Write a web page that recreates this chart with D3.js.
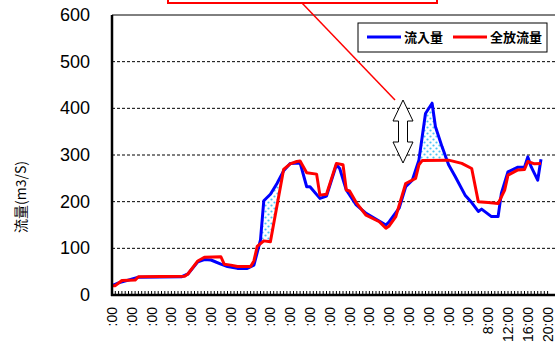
<!DOCTYPE html>
<html>
<head>
<meta charset="utf-8">
<script src="https://cdn.jsdelivr.net/npm/d3@7/dist/d3.min.js"></script>
<style>
  body { margin: 0; background: #fff; }
  svg { display: block; }
</style>
</head>
<body>
<script>
// tick index (one tick per data step) and value in m3/s
var inflow = [
  [0, 20], [2, 26], [8, 38], [21, 39], [23, 45], [26, 71], [28, 76], [30, 75],
  [33, 66], [35, 61], [38, 57], [41, 57], [43, 64], [45, 118], [46, 202], [48, 216],
  [50, 239], [52, 266], [54, 282], [57, 283], [59, 232], [60, 232], [63, 207], [65, 212],
  [68, 279], [69, 271], [71, 225], [74, 193], [77, 175], [83, 150], [84, 157], [87, 186],
  [89, 232], [91, 246], [93, 289], [95, 389], [97, 411], [98, 361], [100, 318], [102, 279],
  [104, 254], [107, 214], [109, 198], [111, 179], [112, 184], [115, 168], [117, 168],
  [118, 218], [120, 264], [123, 274], [125, 274], [126, 296], [127, 275], [129, 246], [130, 291]
];
var outflow = [
  [0, 20], [1, 20], [3, 31], [7, 32], [8, 39], [22, 40], [23, 45], [26, 73], [28, 81],
  [33, 82], [34, 66], [36, 64], [38, 61], [42, 61], [43, 73], [44, 104], [46, 116], [48, 114],
  [52, 269], [54, 281], [56, 286], [57, 287], [59, 262], [62, 259], [63, 214], [65, 216],
  [68, 282], [70, 279], [71, 225], [72, 223], [74, 198], [77, 171], [81, 157], [83, 143],
  [84, 148], [86, 168], [89, 239], [92, 250], [93, 279], [94, 288], [102, 289], [106, 282],
  [109, 271], [111, 200], [114, 198], [117, 196], [119, 225], [120, 257], [123, 268],
  [125, 269], [126, 286], [128, 281], [130, 282]
];
var yTicks = [0, 100, 200, 300, 400, 500, 600];
var xLabels = [":00", ":00", ":00", ":00", ":00", ":00", ":00", ":00", ":00", ":00",
  ":00", ":00", ":00", ":00", ":00", ":00", ":00", ":00", ":00", "8:00", "12:00", "16:00", "20:00"];
var ticksPerLabel = 6;
var legendNames = ["流入量", "全放流量"];
var yTitle = "流量(m3/S)";

function draw() {
  var width = 555, height = 346;
  var left = 112, plotTop = 15, bottom = 295, step = 3.3;
  var nTicks = (xLabels.length - 1) * ticksPerLabel;

  var svg = d3.select("body").append("svg")
      .attr("width", width)
      .attr("height", height);

  var defs = svg.append("defs");
  var pat = defs.append("pattern")
      .attr("id", "dots")
      .attr("patternUnits", "userSpaceOnUse")
      .attr("width", 6).attr("height", 6);
  pat.append("rect").attr("width", 6).attr("height", 6).attr("fill", "#fff");
  pat.append("circle").attr("cx", 1.5).attr("cy", 1.5).attr("r", 1.1).attr("fill", "#4cc4f4");
  pat.append("circle").attr("cx", 4.5).attr("cy", 4.5).attr("r", 1.1).attr("fill", "#4cc4f4");

  var x = d3.scaleLinear().domain([0, nTicks]).range([left, left + nTicks * step]);
  var y = d3.scaleLinear().domain([0, 600]).range([bottom, plotTop]);

  // grid lines
  svg.append("g")
    .selectAll("line")
    .data(yTicks.slice(1))
    .enter().append("line")
      .attr("x1", left).attr("x2", width)
      .attr("y1", function(d) { return y(d); })
      .attr("y2", function(d) { return y(d); })
      .attr("stroke", "#000")
      .attr("stroke-width", 1)
      .attr("stroke-dasharray", function(d) { return d == 600 ? null : "3,2"; });

  // y tick labels
  svg.append("g")
    .selectAll("text")
    .data(yTicks)
    .enter().append("text")
      .attr("x", 90)
      .attr("y", function(d) { return y(d) + 6; })
      .attr("text-anchor", "end")
      .attr("font-family", "Liberation Sans, Arial, sans-serif")
      .attr("font-size", 18)
      .text(function(d) { return d; });

  svg.append("text")
      .attr("transform", "translate(26,197) rotate(-90)")
      .attr("text-anchor", "middle")
      .attr("font-family", "Noto Sans CJK JP, sans-serif")
      .attr("font-size", 14)
      .text(yTitle);

  // fill where inflow exceeds outflow
  var aboveRed = d3.area()
      .x(function(d) { return x(d[0]); })
      .y0(plotTop)
      .y1(function(d) { return y(d[1]); });
  var belowBlue = d3.area()
      .x(function(d) { return x(d[0]); })
      .y0(bottom)
      .y1(function(d) { return y(d[1]); });

  defs.append("clipPath").attr("id", "overRed")
    .append("path").attr("d", aboveRed(outflow));

  svg.append("path")
      .attr("d", belowBlue(inflow))
      .attr("fill", "url(#dots)")
      .attr("clip-path", "url(#overRed)");

  var line = d3.line()
      .x(function(d) { return x(d[0]); })
      .y(function(d) { return y(d[1]); });

  svg.append("path")
      .attr("d", line(inflow))
      .attr("fill", "none")
      .attr("stroke", "#0000ff")
      .attr("stroke-width", 3)
      .attr("stroke-linejoin", "round");

  svg.append("path")
      .attr("d", line(outflow))
      .attr("fill", "none")
      .attr("stroke", "#ff0000")
      .attr("stroke-width", 3)
      .attr("stroke-linejoin", "round");

  // axes
  svg.append("line")
      .attr("x1", left).attr("x2", left)
      .attr("y1", plotTop).attr("y2", bottom + 1)
      .attr("stroke", "#000").attr("stroke-width", 2.5);
  svg.append("line")
      .attr("x1", left - 1).attr("x2", width)
      .attr("y1", bottom).attr("y2", bottom)
      .attr("stroke", "#000").attr("stroke-width", 2.5);

  svg.append("g")
    .selectAll("line")
    .data(d3.range(nTicks + 1))
    .enter().append("line")
      .attr("x1", function(d) { return x(d); })
      .attr("x2", function(d) { return x(d); })
      .attr("y1", bottom).attr("y2", bottom - 4)
      .attr("stroke", "#000").attr("stroke-width", 1);

  svg.append("g")
    .selectAll("text")
    .data(xLabels)
    .enter().append("text")
      .attr("transform", function(d, i) {
        return "translate(" + (x(i * ticksPerLabel) + 5) + ",307) rotate(-90)";
      })
      .attr("text-anchor", "end")
      .attr("font-family", "Liberation Sans, Arial, sans-serif")
      .attr("font-size", 14)
      .text(function(d) { return d; });

  // legend
  var lg = svg.append("g");
  lg.append("rect")
      .attr("x", 358).attr("y", 23).attr("width", 189).attr("height", 29)
      .attr("fill", "#fff").attr("stroke", "#000").attr("stroke-width", 1);
  var legColors = ["#0000ff", "#ff0000"];
  var legX = [367, 453];
  legendNames.forEach(function(n, i) {
    lg.append("line")
        .attr("x1", legX[i]).attr("x2", legX[i] + 34)
        .attr("y1", 37).attr("y2", 37)
        .attr("stroke", legColors[i]).attr("stroke-width", 3);
    lg.append("text")
        .attr("x", legX[i] + 37).attr("y", 42)
        .attr("font-family", "Noto Sans CJK JP, sans-serif")
        .attr("font-size", 13)
        .attr("font-weight", "bold")
        .text(n);
  });

  // callout and arrow
  svg.append("rect")
      .attr("x", 168).attr("y", -20).attr("width", 269).attr("height", 23)
      .attr("fill", "#fff").attr("stroke", "#ff0000").attr("stroke-width", 2);
  svg.append("line")
      .attr("x1", 302).attr("y1", 3).attr("x2", 395).attr("y2", 100)
      .attr("stroke", "#ff0000").attr("stroke-width", 1.5);

  var ax = 403, ay0 = 100, ay1 = 163;
  var arrow = [
    [ax, ay0], [ax + 10, ay0 + 21], [ax + 4.5, ay0 + 21], [ax + 4.5, ay1 - 21], [ax + 10, ay1 - 21],
    [ax, ay1], [ax - 10, ay1 - 21], [ax - 4.5, ay1 - 21], [ax - 4.5, ay0 + 21], [ax - 10, ay0 + 21]
  ];
  svg.append("path")
      .attr("d", "M" + arrow.join("L") + "Z")
      .attr("fill", "#fff").attr("stroke", "#000").attr("stroke-width", 1);
}
draw();
</script>
</body>
</html>
